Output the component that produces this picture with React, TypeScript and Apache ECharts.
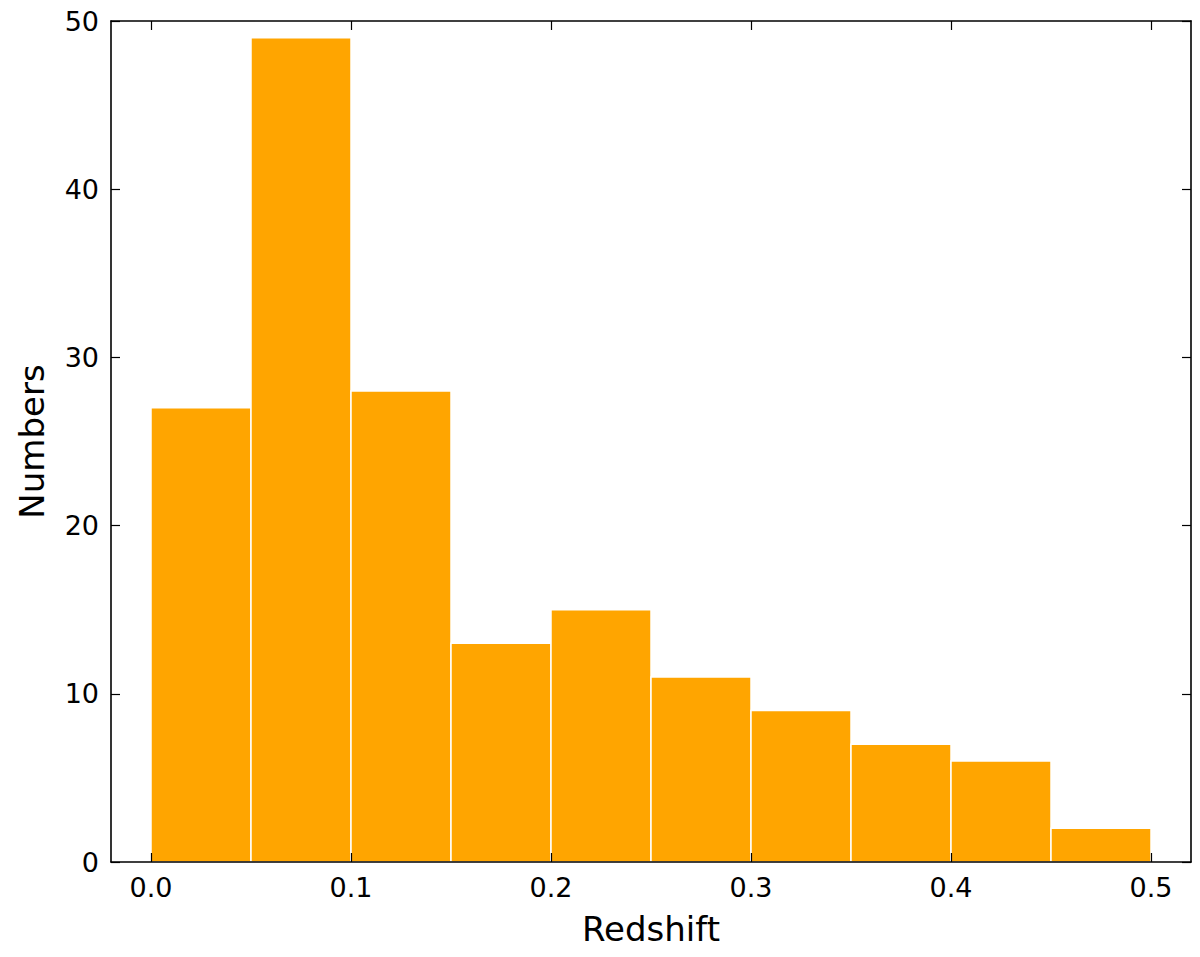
import React, { useEffect, useRef } from "react";
import * as echarts from "echarts";

const binEdges = [0.0, 0.05, 0.1, 0.15, 0.2, 0.25, 0.3, 0.35, 0.4, 0.45, 0.5];
const counts = [27, 49, 28, 13, 15, 11, 9, 7, 6, 2];
const xTicks = [0.0, 0.1, 0.2, 0.3, 0.4, 0.5];
const yTicks = [0, 10, 20, 30, 40, 50];

const FONT = "DejaVu Sans";

export default function App() {
  const ref = useRef<HTMLDivElement>(null);
  useEffect(() => {
    if (!ref.current) return;
    const chart = echarts.init(ref.current, null, { renderer: "svg" });
    const data = counts.map((c, i) => [binEdges[i], binEdges[i + 1], c]);
    const axisLine = { show: true, onZero: false, lineStyle: { color: "#000", width: 1.6 } };
    const tick = (vals: number[]) => ({
      show: true,
      inside: true,
      length: 9,
      customValues: vals,
      lineStyle: { color: "#000", width: 1.2 },
    });
    chart.setOption({
      animation: false,
      backgroundColor: "#fff",
      grid: { left: 111, right: 9, top: 21, bottom: 95, containLabel: false },
      xAxis: [
        {
          type: "value",
          position: "bottom",
          min: -0.02,
          max: 0.52,
          name: "Redshift",
          nameLocation: "middle",
          nameGap: 50,
          nameTextStyle: { fontFamily: FONT, fontSize: 34, color: "#000" },
          axisLine,
          axisTick: tick(xTicks),
          splitLine: { show: false },
          z: 5,
          axisLabel: {
            customValues: xTicks,
            formatter: (v: number) => v.toFixed(1),
            fontFamily: FONT,
            fontSize: 27,
            color: "#000",
            margin: 12,
          },
        },
        {
          type: "value",
          position: "top",
          min: -0.02,
          max: 0.52,
          axisLine,
          axisTick: tick(xTicks),
          splitLine: { show: false },
          z: 5,
          axisLabel: { show: false, customValues: xTicks },
        },
      ],
      yAxis: [
        {
          type: "value",
          position: "left",
          min: 0,
          max: 50,
          interval: 10,
          name: "Numbers",
          nameLocation: "middle",
          nameGap: 62,
          nameTextStyle: { fontFamily: FONT, fontSize: 34, color: "#000" },
          axisLine,
          axisTick: tick(yTicks),
          splitLine: { show: false },
          z: 5,
          axisLabel: {
            customValues: yTicks,
            fontFamily: FONT,
            fontSize: 27,
            color: "#000",
            margin: 12,
          },
        },
        {
          type: "value",
          position: "right",
          min: 0,
          max: 50,
          interval: 10,
          axisLine,
          axisTick: tick(yTicks),
          splitLine: { show: false },
          z: 5,
          axisLabel: { show: false },
        },
      ],
      series: [
        {
          type: "custom",
          xAxisIndex: 0,
          yAxisIndex: 0,
          data,
          z: 2,
          encode: { x: [0, 1], y: 2 },
          renderItem: (params: any, api: any) => {
            const x0 = api.value(0);
            const x1 = api.value(1);
            const c = api.value(2);
            const p0 = api.coord([x0, c]);
            const p1 = api.coord([x1, 0]);
            return {
              type: "rect",
              shape: { x: p0[0], y: p0[1], width: p1[0] - p0[0], height: p1[1] - p0[1] },
              style: { fill: "#FFA500", stroke: "#ffffff", lineWidth: 1.5 },
            };
          },
        },
      ],
    });
    return () => chart.dispose();
  }, []);
  return (
    <div
      ref={ref}
      style={{ position: "fixed", left: 0, top: 0, width: 1200, height: 957, background: "#fff" }}
    />
  );
}
